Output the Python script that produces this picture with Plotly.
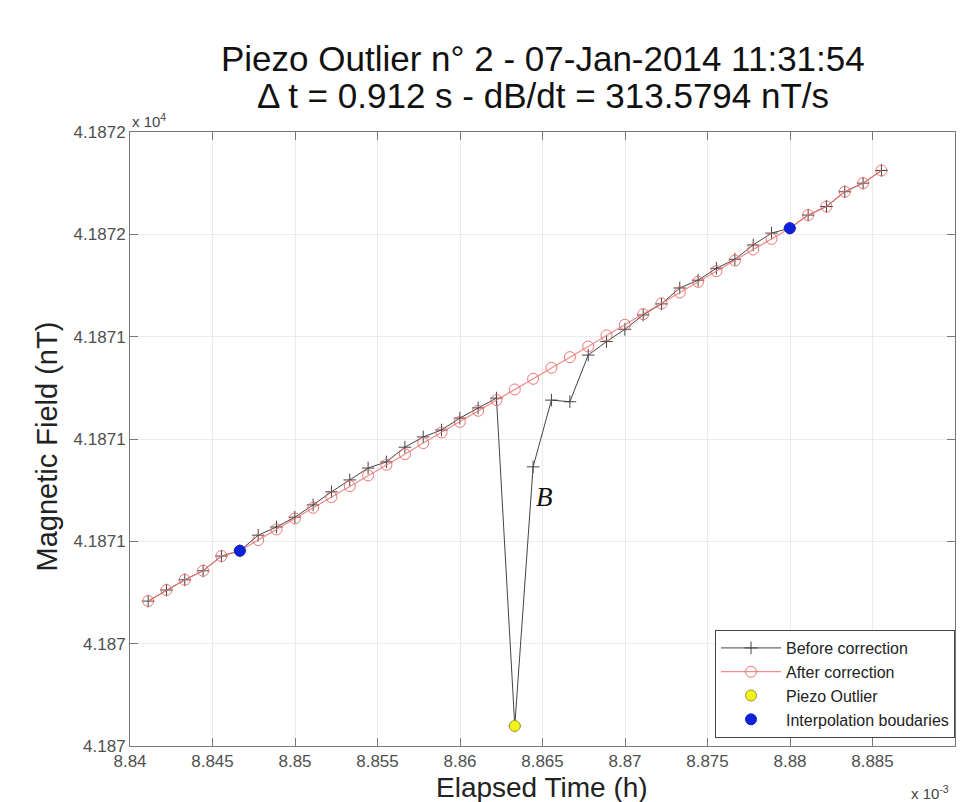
import plotly.graph_objects as go

# Elapsed time (units of 1e-3 h)
time_ms_h = [8.84110, 8.84221, 8.84332, 8.84443, 8.84554, 8.84666, 8.84777, 8.84888,
             8.84999, 8.85110, 8.85221, 8.85332, 8.85443, 8.85554, 8.85666, 8.85777,
             8.85888, 8.85999, 8.86110, 8.86221, 8.86332, 8.86443, 8.86554, 8.86666,
             8.86777, 8.86888, 8.86999, 8.87110, 8.87221, 8.87332, 8.87443, 8.87554,
             8.87666, 8.87777, 8.87888, 8.87999, 8.88110, 8.88221, 8.88332, 8.88443,
             8.88554]

# Magnetic field before correction (nT)
before_nT = [41870.604, 41870.631, 41870.656, 41870.678, 41870.714, 41870.727,
             41870.765, 41870.785, 41870.809, 41870.839, 41870.871, 41870.900,
             41870.929, 41870.944, 41870.980, 41871.005, 41871.022, 41871.051,
             41871.076, 41871.100, 41870.299, 41870.932, 41871.095, 41871.091,
             41871.205, 41871.238, 41871.268, 41871.303, 41871.330, 41871.369,
             41871.388, 41871.417, 41871.439, 41871.474, 41871.503, 41871.515,
             41871.547, 41871.568, 41871.604, 41871.625, 41871.656]

# Magnetic field after correction (nT)
after_nT = [41870.604, 41870.631, 41870.656, 41870.678, 41870.714, 41870.727,
            41870.753, 41870.779, 41870.806, 41870.832, 41870.858, 41870.885,
            41870.911, 41870.937, 41870.963, 41870.990, 41871.016, 41871.042,
            41871.069, 41871.095, 41871.121, 41871.147, 41871.174, 41871.200,
            41871.226, 41871.253, 41871.279, 41871.305, 41871.331, 41871.358,
            41871.384, 41871.410, 41871.436, 41871.463, 41871.489, 41871.515,
            41871.547, 41871.568, 41871.604, 41871.625, 41871.656]

outlier_index = [20]
boundary_index = [5, 35]

x_tickvals = [8.84, 8.845, 8.85, 8.855, 8.86, 8.865, 8.87, 8.875, 8.88, 8.885, 8.89]
x_ticktext = ["8.84", "8.845", "8.85", "8.855", "8.86", "8.865", "8.87", "8.875", "8.88", "8.885", "8.89"]
y_tickvals = [41870.25, 41870.5, 41870.75, 41871.0, 41871.25, 41871.5, 41871.75]
y_ticktext = ["4.187", "4.187", "4.1871", "4.1871", "4.1871", "4.1872", "4.1872"]

title_line1 = "Piezo Outlier n° 2 - 07-Jan-2014 11:31:54"
title_line2 = "Δ t = 0.912 s - dB/dt = 313.5794 nT/s"

FONT = "Liberation Sans, Arial, sans-serif"

fig = go.Figure()
fig.add_trace(go.Scatter(
    x=time_ms_h, y=before_nT, mode="lines+markers", name="Before correction",
    line=dict(color="#444444", width=1),
    marker=dict(symbol="cross-thin", size=9, line=dict(color="#444444", width=1))))
fig.add_trace(go.Scatter(
    x=time_ms_h, y=after_nT, mode="lines+markers", name="After correction",
    line=dict(color="rgba(240,120,120,0.85)", width=1.2),
    marker=dict(symbol="circle-open", size=11, color="rgba(230,95,95,0.85)",
                line=dict(width=1))))
fig.add_trace(go.Scatter(
    x=[time_ms_h[i] for i in outlier_index], y=[before_nT[i] for i in outlier_index],
    mode="markers", name="Piezo Outlier",
    marker=dict(symbol="circle", size=11, color="#f2f21e", line=dict(color="#9a9a20", width=1))))
fig.add_trace(go.Scatter(
    x=[time_ms_h[i] for i in boundary_index], y=[before_nT[i] for i in boundary_index],
    mode="markers", name="Interpolation boudaries",
    marker=dict(symbol="circle", size=11, color="#0b22d6", line=dict(color="#0b22d6", width=1))))

axis_common = dict(showline=True, linecolor="#777", linewidth=1, mirror="ticks",
                   ticks="inside", ticklen=8, tickcolor="#777", showgrid=True,
                   gridcolor="#ebebeb", gridwidth=1, zeroline=False,
                   tickfont=dict(family=FONT, size=17, color="#505050"))

fig.update_xaxes(range=[8.84, 8.89], tickmode="array", tickvals=x_tickvals,
                 ticktext=x_ticktext, **axis_common)
fig.update_yaxes(range=[41870.25, 41871.75], tickmode="array", tickvals=y_tickvals,
                 ticktext=y_ticktext, **axis_common)

annos = [
    dict(text=title_line1, x=0.5006, y=1.1200, font=dict(size=35, color="#111", family=FONT)),
    dict(text=title_line2, x=0.5006, y=1.0590, font=dict(size=35, color="#111", family=FONT)),
    dict(text="Elapsed Time (h)", x=0.4994, y=-0.0675, font=dict(size=28, color="#222", family=FONT)),
    dict(text="Magnetic Field (nT)", x=-0.1006, y=0.4878, textangle=-90,
         font=dict(size=29, color="#222", family=FONT)),
    dict(text="x 10<sup>4</sup>", x=0.0, y=1.0195, xanchor="left",
         font=dict(size=15, color="#444", family=FONT)),
    dict(text="x 10<sup>-3</sup>", x=0.9950, y=-0.0760, xanchor="right",
         font=dict(size=15, color="#444", family=FONT)),
]
for a in annos:
    a.setdefault("xanchor", "center")
    fig.add_annotation(xref="paper", yref="paper", yanchor="middle", showarrow=False, **a)

fig.add_annotation(x=8.86515, y=41870.858, xref="x", yref="y", text="<i>B</i>",
                   showarrow=False, font=dict(family="Liberation Serif, Times New Roman, serif",
                                              size=27, color="#111"))

fig.update_layout(
    width=960, height=802,
    margin=dict(l=130, r=5, t=132, b=56),
    paper_bgcolor="white", plot_bgcolor="white",
    showlegend=True,
    legend=dict(x=1.0, y=0.013, xanchor="right", yanchor="bottom",
                bgcolor="white", bordercolor="#444", borderwidth=1,
                itemwidth=60, tracegroupgap=0,
                font=dict(family=FONT, size=16, color="#222")),
)

fig.write_html("out.html")
